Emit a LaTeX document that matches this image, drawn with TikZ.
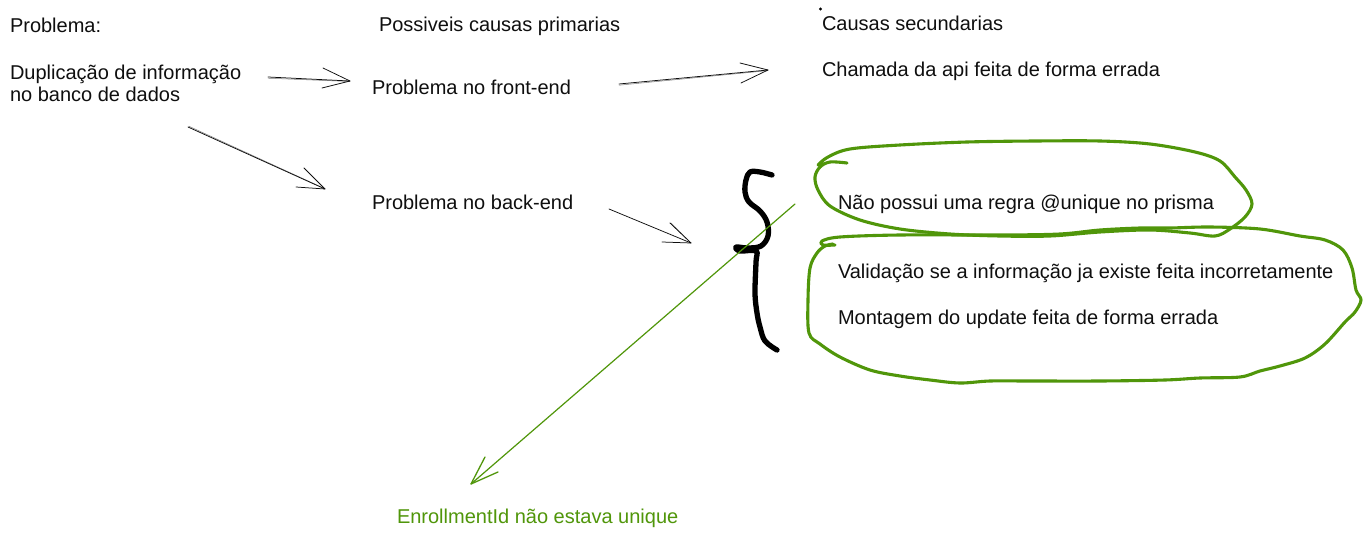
\documentclass[tikz,border=0pt]{standalone}
\usepackage{fontspec}
\setmainfont{Liberation Sans}
\definecolor{grn}{RGB}{80,150,10}
\definecolor{ink}{RGB}{15,15,15}
\tikzset{
  lbl/.style={anchor=base west, inner sep=0pt, outer sep=0pt, text=ink, font=\fontsize{20}{23}\selectfont},
  sk/.style={draw=ink, line width=0.75pt, line cap=round, line join=round},
  skb/.style={draw=ink, line width=0.5pt, line cap=round, opacity=0.55},
  grnline/.style={draw=grn, line width=3.1pt, line cap=round, line join=round},
  bracestroke/.style={draw=black, line width=5.3pt, line cap=round, line join=round}
}
\begin{document}
\begin{tikzpicture}[x=1pt,y=-1pt]
\useasboundingbox (0,0) rectangle (1371,538);
\fill[white] (0,0) rectangle (1371,538);

% texts
\node[lbl] (prob) at (10,32) {Problema:};
\node[lbl] (dup1) at (10,79.5) {Duplicação de informação};
\node[lbl] (dup2) at (10,101) {no banco de dados};
\node[lbl] (prim) at (379,31.7) {Possiveis causas primarias};
\node[lbl] (front) at (372,94) {Problema no front-end};
\node[lbl] (back) at (372,209) {Problema no back-end};
\node[lbl] (sec) at (822,30) {Causas secundarias};
\node[lbl] (api) at (822,76) {Chamada da api feita de forma errada};
\node[lbl] (uniq) at (838,209.5) {Não possui uma regra @unique no prisma};
\node[lbl] (valid) at (838,278) {Validação se a informação ja existe feita incorretamente};
\node[lbl] (mont) at (838,324) {Montagem do update feita de forma errada};
\node[lbl, text=grn] (enr) at (397,523) {EnrollmentId não estava unique};

% dot
\fill[black] (820.5,9) circle (1.6);

% arrow 1: dup -> front
\coordinate (a1s) at (268,77);
\coordinate (a1e) at (350,81);
\coordinate (a1b) at (323,68);
\coordinate (a1c) at (322,88);
\draw[sk] (a1s) -- (a1e);
\draw[skb] ([yshift=-1.2pt]a1s) -- ([yshift=-0.5pt]a1e);
\draw[sk] (a1b) -- (a1e) -- (a1c);

% arrow 2: front -> api
\coordinate (a2s) at (619,84);
\coordinate (a2e) at (768,70);
\coordinate (a2b) at (740,63);
\coordinate (a2c) at (741,83);
\draw[sk] (a2s) -- (a2e);
\draw[skb] ([yshift=-1.2pt]a2s) -- ([yshift=-0.6pt]a2e);
\draw[sk] (a2b) -- (a2e) -- (a2c);

% arrow 3: dup -> back
\coordinate (a3s) at (188,127);
\coordinate (a3e) at (325,189);
\coordinate (a3b) at (304,168);
\coordinate (a3c) at (296,187);
\draw[sk] (a3s) -- (a3e);
\draw[skb] ([xshift=0.8pt,yshift=0.8pt]a3s) -- ([yshift=0.3pt]a3e);
\draw[sk] (a3b) -- (a3e) -- (a3c);

% arrow 4: back -> brace
\coordinate (a4s) at (609,209);
\coordinate (a4e) at (691,243);
\coordinate (a4b) at (670,223);
\coordinate (a4c) at (662,242);
\draw[sk] (a4s) -- (a4e);
\draw[sk] (a4b) -- (a4e) -- (a4c);
\draw[skb] ([xshift=1pt]a4b) -- (a4e);

% brace
\draw[bracestroke] plot[smooth, tension=0.6] coordinates {
  (772,175) (760,172) (750,172) (746,180) (745,192) (749,202) (760,211)
  (767,222) (768,236) (761,246) (748,248) (736,247) (740,251) (756,251)
  (756,262) (755,293) (757,313) (760,327) (765,341) (777,350)};

% green arrow to EnrollmentId
\coordinate (g0) at (795,204);
\coordinate (g1) at (471,484);
\coordinate (gb) at (485,457);
\coordinate (gc) at (498,472);
\draw[draw=grn, line width=1.2pt, line cap=round] (g0) -- (g1);
\draw[draw=grn, line width=1.3pt, line cap=round, line join=round] (gb) -- (g1) -- (gc);

% green loop 1
\draw[grnline] plot[smooth, tension=0.55] coordinates {
  (847,163) (830,162) (820,167) (815,177) (818,190) (830,206) (860,220)
  (900,229) (950,234) (1000,236) (1050,236) (1100,232) (1150,230)
  (1190,233) (1215,236) (1230,229) (1245,217) (1252,204) (1246,190)
  (1235,177) (1220,161) (1195,152) (1150,144) (1100,141) (1035,141)
  (967,142) (900,145) (850,149) (828,157) (818,165)};

% green loop 2
\draw[grnline] plot[smooth, tension=0.55] coordinates {
  (835,245) (823,245) (822,241) (840,237) (900,235) (1000,235) (1060,234)
  (1100,230) (1140,228) (1170,228) (1210,227) (1260,229) (1300,236)
  (1325,240) (1343,250) (1352,268) (1356,290) (1361,300) (1355,312)
  (1345,322) (1325,344) (1305,358) (1280,366) (1260,371) (1240,377)
  (1200,378) (1165,380) (1100,381) (1030,381) (990,381) (960,383)
  (930,380) (900,376) (870,370) (840,357) (820,344) (809,333) (808,300)
  (810,268) (817,253) (825,246) (833,244)};
\end{tikzpicture}
\end{document}
